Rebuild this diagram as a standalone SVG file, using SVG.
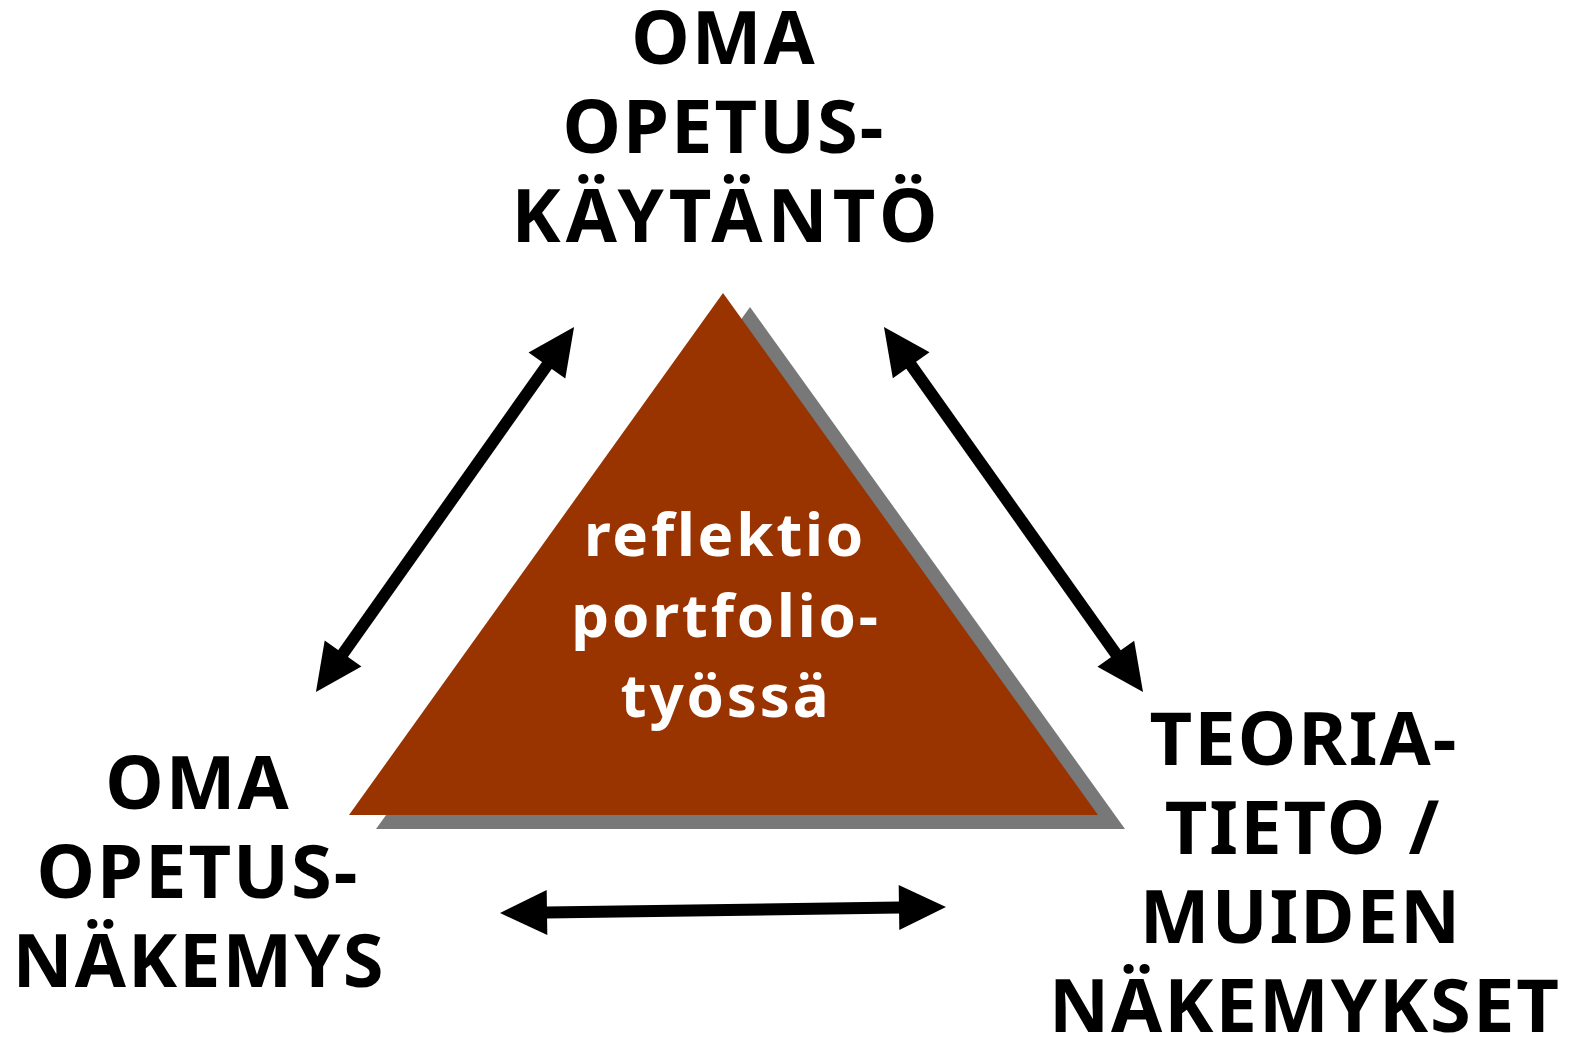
<svg xmlns="http://www.w3.org/2000/svg" width="1571" height="1037" viewBox="0 0 1571 1037">
<defs>
<style>
.lbl{font-family:"Noto Sans","Open Sans","Liberation Sans",sans-serif;font-weight:bold;font-size:74px;fill:#000;text-anchor:middle;letter-spacing:2px}
.ctr{font-family:"Noto Sans","Open Sans","Liberation Sans",sans-serif;font-weight:bold;font-size:60px;fill:#fff;text-anchor:middle;letter-spacing:2.8px}
.arr{stroke:#000;stroke-width:12;fill:none;marker-start:url(#ah);marker-end:url(#ah)}
</style>
<marker id="ah" markerUnits="userSpaceOnUse" markerWidth="47" markerHeight="46" viewBox="-1 -23 47 46" refX="0" refY="0" orient="auto-start-reverse" overflow="visible">
<path d="M-1,-22.5 L46,0 L-1,22.5 z" fill="#000"/>
</marker>
</defs>
<g id="center">
<polygon points="750,307 1125,829 376,829" fill="#787878"/>
<polygon points="723,293 1098,815 349,815" fill="#993300"/>
<text class="ctr" x="725" y="556">reflektio</text>
<text class="ctr" x="726" y="637">portfolio-</text>
<text class="ctr" x="726" y="717">työssä</text>
</g>
<g id="top">
<text class="lbl" x="724" y="64">OMA</text>
<text class="lbl" x="724" y="153">OPETUS-</text>
<text class="lbl" x="727" y="242" style="letter-spacing:5px">KÄYTÄNTÖ</text>
</g>
<g id="left">
<text class="lbl" x="198" y="809">OMA</text>
<text class="lbl" x="198" y="898">OPETUS-</text>
<text class="lbl" x="199" y="987">NÄKEMYS</text>
</g>
<g id="right">
<text class="lbl" x="1304" y="765">TEORIA-</text>
<text class="lbl" x="1303" y="854">TIETO /</text>
<text class="lbl" x="1301" y="943">MUIDEN</text>
<text class="lbl" x="1305" y="1032">NÄKEMYKSET</text>
</g>
<g id="connectors">
<line class="arr" x1="342.5" y1="654.4" x2="547.5" y2="364.6"/>
<line class="arr" x1="910.6" y1="364.5" x2="1116.4" y2="654.5"/>
<line class="arr" x1="546" y1="912.4" x2="900" y2="907.6"/>
</g>
</svg>
